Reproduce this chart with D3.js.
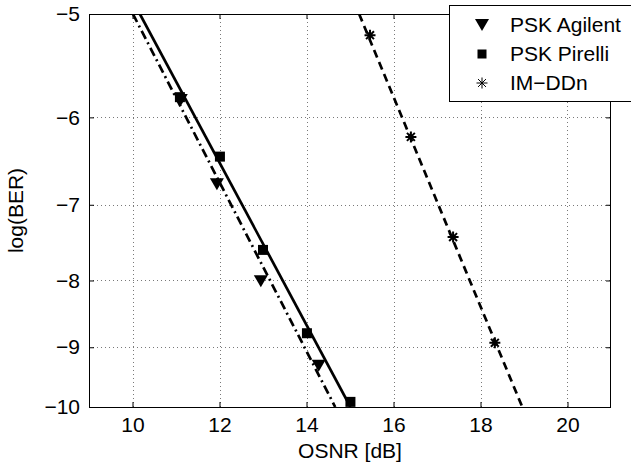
<!DOCTYPE html>
<html>
<head>
<meta charset="utf-8">
<script src="https://cdn.jsdelivr.net/npm/d3@7"></script>
<style>
  html, body { margin: 0; padding: 0; background: #fff; }
  text { font-family: "Liberation Sans", Arial, Helvetica, sans-serif; fill: #000; }
</style>
</head>
<body>
<svg id="chart" width="631" height="469"></svg>
<script>
// ---- data ----
const xTicks = [10, 12, 14, 16, 18, 20];
const yTicks = [-5, -6, -7, -8, -9, -10];
const xDomain = [9, 21];
const yDomain = [-5, -10];

const agilentX = [11.11, 11.94, 12.95, 14.28];
const agilentY = [-5.82, -6.75, -8.01, -9.30];
const pirelliX = [11.09, 12.01, 13.00, 14.01, 15.01];
const pirelliY = [-5.79, -6.43, -7.58, -8.78, -9.91];
const imddX = [15.46, 16.40, 17.37, 18.33];
const imddY = [-5.19, -6.21, -7.41, -8.93];

const agilentFitX = [10.01, 14.66];
const agilentFitY = [-5, -10];
const pirelliFitX = [10.17, 15.01];
const pirelliFitY = [-5, -10];
const imddFitX = [15.21, 18.96];
const imddFitY = [-5, -10];

const legendLabels = ["PSK Agilent", "PSK Pirelli", "IM\u2212DDn"];
const xLabel = "OSNR [dB]";
const yLabel = "log(BER)";

// ---- layout ----
const L = 89, R = 611, T = 14, B = 407;
const svg = d3.select("#chart");
const x = d3.scaleLinear().domain(xDomain).range([L, R]);
// log(BER) axis is drawn on a log scale of -log(BER)
const yl = d3.scaleLog().domain([-yDomain[0], -yDomain[1]]).range([T, B]);
const y = v => yl(-v);

const FS = 21;

// grid
const grid = svg.append("g").attr("stroke", "#000").attr("stroke-width", 0.7)
  .attr("stroke-dasharray", "1,3").attr("opacity", 0.75);
xTicks.forEach(t => {
  grid.append("line").attr("x1", Math.round(x(t)) + 0.5).attr("x2", Math.round(x(t)) + 0.5)
    .attr("y1", T).attr("y2", B);
});
yTicks.filter(t => t !== -5 && t !== -10).forEach(t => {
  grid.append("line").attr("y1", Math.round(y(t)) + 0.5).attr("y2", Math.round(y(t)) + 0.5)
    .attr("x1", L).attr("x2", R);
});

// axes
const fmt = d => (d < 0 ? "\u2212" + Math.abs(d) : String(d));
const axB = svg.append("g").attr("transform", `translate(0,${B})`)
  .call(d3.axisBottom(x).tickValues(xTicks).tickSizeInner(-5).tickSizeOuter(0).tickPadding(10).tickFormat(fmt));
const axT = svg.append("g").attr("transform", `translate(0,${T})`)
  .call(d3.axisTop(x).tickValues(xTicks).tickSizeInner(-5).tickSizeOuter(0).tickFormat(""));
const axL = svg.append("g").attr("transform", `translate(${L},0)`)
  .call(d3.axisLeft(yl).tickValues(yTicks.map(v => -v)).tickSizeInner(-5).tickSizeOuter(0).tickPadding(9)
    .tickFormat(d => fmt(-d)));
const axR = svg.append("g").attr("transform", `translate(${R},0)`)
  .call(d3.axisRight(yl).tickValues(yTicks.map(v => -v)).tickSizeInner(-5).tickSizeOuter(0).tickFormat(""));
[axB, axT, axL, axR].forEach(a => {
  a.select(".domain").remove();
  a.selectAll("line").attr("stroke", "#000");
  a.selectAll("text").attr("font-size", FS).attr("font-family", "Liberation Sans, Arial, sans-serif").attr("fill", "#000");
});

// frame
svg.append("rect").attr("x", L + 0.5).attr("y", T + 0.5).attr("width", R - L - 1).attr("height", B - T)
  .attr("fill", "none").attr("stroke", "#000").attr("stroke-width", 1);

// clip
svg.append("clipPath").attr("id", "clip").append("rect")
  .attr("x", L).attr("y", T).attr("width", R - L).attr("height", B - T);

const line = d3.line().x(d => x(d[0])).y(d => y(d[1]));
const plot = svg.append("g");
const lines = plot.append("g").attr("clip-path", "url(#clip)").attr("fill", "none").attr("stroke", "#000").attr("stroke-width", 2.7);
lines.append("path").attr("d", line(d3.zip(agilentFitX, agilentFitY))).attr("stroke-dasharray", "9,4,2,4");
lines.append("path").attr("d", line(d3.zip(pirelliFitX, pirelliFitY)));
lines.append("path").attr("d", line(d3.zip(imddFitX, imddFitY))).attr("stroke-dasharray", "8,5");

// markers
function tri(g, cx, cy, w) {
  const h = w * 0.86;
  g.append("path").attr("d", `M${cx - w / 2},${cy - h / 2}L${cx + w / 2},${cy - h / 2}L${cx},${cy + h / 2}Z`)
    .attr("fill", "#000");
}
function sq(g, cx, cy, s) {
  g.append("rect").attr("x", cx - s / 2).attr("y", cy - s / 2).attr("width", s).attr("height", s).attr("fill", "#000");
}
function star(g, cx, cy, r, sw) {
  const p = [];
  p.push(`M${cx},${cy - r}L${cx},${cy + r}`);
  p.push(`M${cx - r},${cy}L${cx + r},${cy}`);
  const d = r * 0.72;
  p.push(`M${cx - d},${cy - d}L${cx + d},${cy + d}`);
  p.push(`M${cx - d},${cy + d}L${cx + d},${cy - d}`);
  g.append("path").attr("d", p.join("")).attr("stroke", "#000").attr("stroke-width", sw).attr("fill", "none");
}
const mk = plot.append("g");
d3.zip(pirelliX, pirelliY).forEach(([a, b]) => sq(mk, x(a), y(b), 10));
d3.zip(agilentX, agilentY).forEach(([a, b]) => tri(mk, x(a), y(b), 14));
d3.zip(imddX, imddY).forEach(([a, b]) => star(mk, x(a), y(b), 5.5, 2));

// labels
svg.append("text").attr("x", (L + R) / 2).attr("y", 458).attr("text-anchor", "middle")
  .attr("font-size", FS).text(xLabel);
svg.append("text").attr("transform", `translate(23,${(T + B) / 2}) rotate(-90)`).attr("text-anchor", "middle")
  .attr("font-size", FS).text(yLabel);

// legend
const lg = svg.append("g");
lg.append("rect").attr("x", 449.5).attr("y", 5.5).attr("width", 200).attr("height", 96)
  .attr("fill", "#fff").attr("stroke", "#000").attr("stroke-width", 1);
const rowsY = [25, 54, 83];
tri(lg, 482, rowsY[0], 14);
sq(lg, 482, rowsY[1], 9);
star(lg, 482, rowsY[2], 5.5, 1);
legendLabels.forEach((t, i) => {
  lg.append("text").attr("x", 510).attr("y", rowsY[i] + 7).attr("font-size", FS).text(t);
});
</script>
</body>
</html>
